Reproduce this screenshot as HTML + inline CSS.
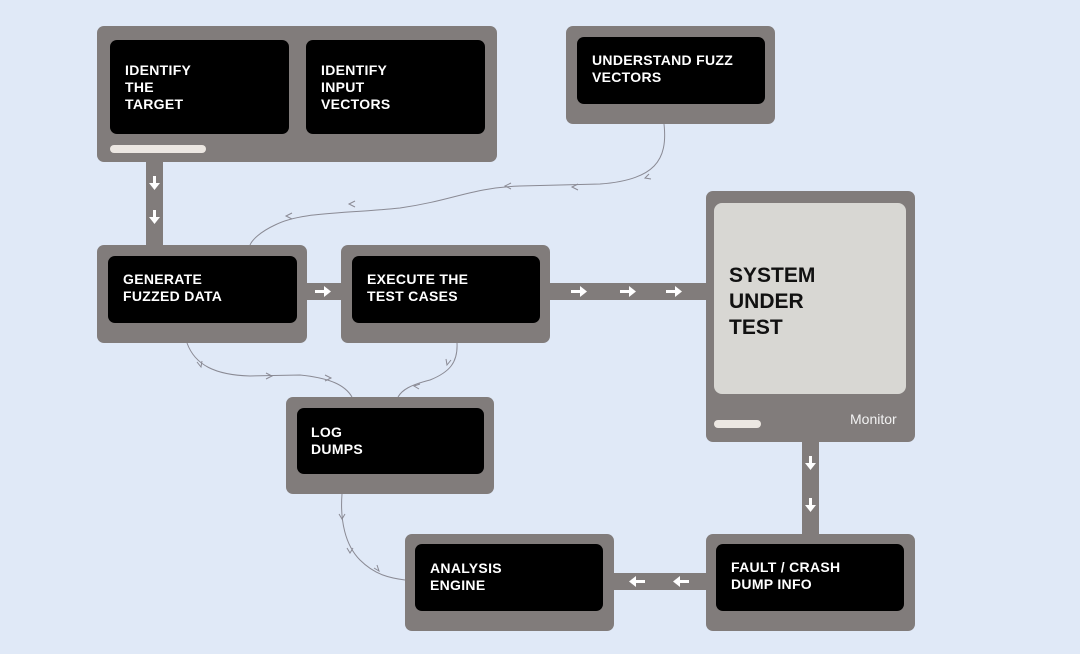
<!DOCTYPE html>
<html><head><meta charset="utf-8"><style>
body{margin:0;width:1080px;height:654px;background:#e0e9f7;position:relative;overflow:hidden;font-family:"Liberation Sans",sans-serif}
.g{position:absolute;background:#817c7b;border-radius:7px}
.b{position:absolute;background:#000;border-radius:7px;color:#fff;font-weight:bold;font-size:14px;line-height:17px;letter-spacing:0.3px;box-sizing:border-box;padding-left:15px}
.c{position:absolute;background:#817c7b}
svg{position:absolute;left:0;top:0}
</style></head><body>
<div class="c" style="left:146px;top:160px;width:17px;height:88px"></div>
<div class="c" style="left:305px;top:283px;width:38px;height:17px"></div>
<div class="c" style="left:548px;top:283px;width:160px;height:17px"></div>
<div class="c" style="left:802px;top:440px;width:17px;height:96px"></div>
<div class="c" style="left:611px;top:573px;width:97px;height:17px"></div>

<div class="g" style="left:97px;top:26px;width:400px;height:136px"></div>
<div class="b" style="left:110px;top:40px;width:179px;height:94px;padding-top:22px">IDENTIFY<br>THE<br>TARGET</div>
<div class="b" style="left:306px;top:40px;width:179px;height:94px;padding-top:22px">IDENTIFY<br>INPUT<br>VECTORS</div>
<div style="position:absolute;left:110px;top:145px;width:96px;height:8px;border-radius:4px;background:#ece7e2"></div>

<div class="g" style="left:566px;top:26px;width:209px;height:98px"></div>
<div class="b" style="left:577px;top:37px;width:188px;height:67px;padding-top:15px">UNDERSTAND FUZZ<br>VECTORS</div>

<div class="g" style="left:97px;top:245px;width:210px;height:98px"></div>
<div class="b" style="left:108px;top:256px;width:189px;height:67px;padding-top:15px">GENERATE<br>FUZZED DATA</div>

<div class="g" style="left:341px;top:245px;width:209px;height:98px"></div>
<div class="b" style="left:352px;top:256px;width:188px;height:67px;padding-top:15px">EXECUTE THE<br>TEST CASES</div>

<div class="g" style="left:706px;top:191px;width:209px;height:251px"></div>
<div style="position:absolute;left:714px;top:203px;width:192px;height:191px;border-radius:8px;background:#d8d7d3"></div>
<div style="position:absolute;left:729px;top:263px;font-weight:bold;font-size:21px;line-height:26px;color:#111">SYSTEM<br>UNDER<br>TEST</div>
<div style="position:absolute;left:714px;top:420px;width:47px;height:8px;border-radius:4px;background:#ece7e2"></div>
<div style="position:absolute;left:850px;top:411px;color:#f2f2f2;font-size:14px">Monitor</div>

<div class="g" style="left:286px;top:397px;width:208px;height:97px"></div>
<div class="b" style="left:297px;top:408px;width:187px;height:66px;padding-top:16px;padding-left:14px">LOG<br>DUMPS</div>

<div class="g" style="left:405px;top:534px;width:209px;height:97px"></div>
<div class="b" style="left:415px;top:544px;width:188px;height:67px;padding-top:16px">ANALYSIS<br>ENGINE</div>

<div class="g" style="left:706px;top:534px;width:209px;height:97px"></div>
<div class="b" style="left:716px;top:544px;width:188px;height:67px;padding-top:15px">FAULT / CRASH<br>DUMP INFO</div>

<svg width="1080" height="654" viewBox="0 0 1080 654">
<g fill="none" stroke="#8a8a94" stroke-width="1">
<path d="M664 124 C668 160 655 180 600 184 L520 186 C470 188 455 200 400 208 C340 214 300 212 275 225 C260 232 252 240 250 245"/>
<path d="M187 343 C195 365 215 375 250 376 L300 375 C330 378 345 385 352 397"/>
<path d="M457 343 C458 362 450 372 430 380 C410 385 402 390 398 397"/>
<path d="M342 494 C340 520 345 545 360 560 C375 575 390 578 405 580"/>
<g stroke-width="1">
<path d="M511 183 l-6 3 l6 3"/><path d="M355 201 l-6 3 l6 3"/><path d="M292 213 l-6 3 l6 3"/>
<path d="M578 184 l-6 3 l6 3"/>
<path d="M197 362 l4 5 l1 -6"/><path d="M266 373 l6 3 l-6 3"/><path d="M325 375 l6 3 l-6 3"/>
<path d="M451 360 l-4 5 l-1 -6"/><path d="M420 384 l-6 2 l5 3"/>
<path d="M339 514 l3 5 l3 -5"/><path d="M347 548 l3 5 l3 -5"/><path d="M374 568 l5 3 l-2 -6"/>
<path d="M649 174 l-4 4 l6 1"/>
</g></g>
<g fill="#fff">
<g id="dn"><rect x="153" y="176" width="3" height="8"/><path d="M149 183 h11 l-5.5 7z"/></g>
<use href="#dn" transform="translate(0,34)"/>
<use href="#dn" transform="translate(656,280)"/>
<use href="#dn" transform="translate(656,322)"/>
<g id="rt"><rect x="315" y="290" width="10" height="3"/><path d="M324 286 v11 l7 -5.5z"/></g>
<use href="#rt" transform="translate(256,0)"/>
<use href="#rt" transform="translate(305,0)"/>
<use href="#rt" transform="translate(351,0)"/>
<g id="lt"><rect x="635" y="580" width="10" height="3"/><path d="M636 576 v11 l-7 -5.5z"/></g>
<use href="#lt" transform="translate(44,0)"/>
</g>
</svg>
</body></html>
